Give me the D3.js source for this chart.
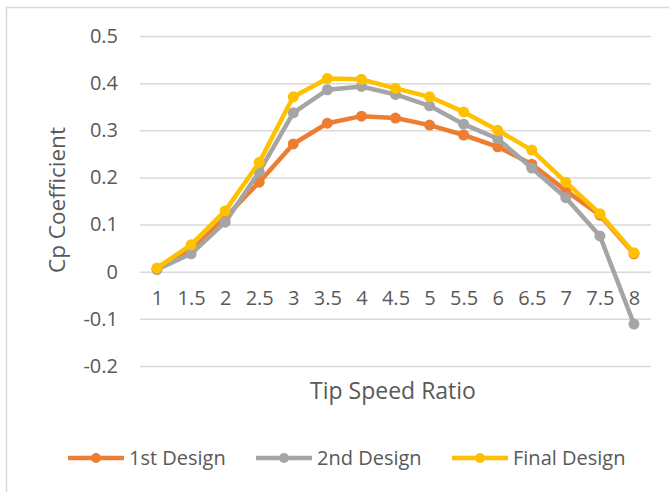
<!DOCTYPE html>
<html>
<head>
<meta charset="utf-8">
<script src="https://cdn.jsdelivr.net/npm/d3@7"></script>
<style>
    body { margin: 0; background: #fff; }
    text { font-family: "Open Sans", sans-serif; fill: #595959; }
</style>
</head>
<body>
<script>
// tip speed ratio categories
const categories = ['1', '1.5', '2', '2.5', '3', '3.5', '4', '4.5', '5', '5.5', '6', '6.5', '7', '7.5', '8'];

// Cp values per design
const firstDesign = [0.005, 0.045, 0.115, 0.19, 0.271, 0.315, 0.330, 0.326, 0.311, 0.290, 0.265, 0.228, 0.172, 0.12, 0.038];
const secondDesign = [0.005, 0.038, 0.105, 0.212, 0.337, 0.386, 0.393, 0.376, 0.352, 0.313, 0.282, 0.22, 0.157, 0.076, -0.111];
const finalDesign = [0.008, 0.057, 0.129, 0.232, 0.371, 0.41, 0.408, 0.389, 0.371, 0.339, 0.3, 0.258, 0.19, 0.123, 0.04];

const yTicks = [0.5, 0.4, 0.3, 0.2, 0.1, 0, -0.1, -0.2];
const seriesNames = ['1st Design', '2nd Design', 'Final Design'];
const seriesColors = ['#ED7D31', '#A5A5A5', '#FFC000'];

class Chart {

    constructor () {
        this.WIDTH = 669;
        this.HEIGHT = 492;
        this.LINE_WIDTH = 4.5;
        this.MARKER_R = 5.5;

        this.svg = d3.select('body').append('svg')
            .attr('width', this.WIDTH)
            .attr('height', this.HEIGHT);

        this.x = d3.scalePoint().domain(categories).range([140, 651]).padding(0.5);
        this.y = d3.scaleLinear().domain([-0.2, 0.5]).range([366, 36]);

        this.drawFrame();
        this.drawGrid();
        this.drawSeries();
        this.drawLegend();
    }

    drawFrame() {
        // chart area border, cut off at right and bottom in the original
        this.svg.append('rect')
            .attr('x', 6.5).attr('y', 7.5)
            .attr('width', 700).attr('height', 520)
            .attr('fill', 'none')
            .attr('stroke', '#d9d9d9')
            .attr('stroke-width', 1.5);
    }

    drawGrid() {
        const yAxis = d3.axisLeft(this.y)
            .tickValues(yTicks)
            .tickSize(-(651 - 140))
            .tickPadding(22)
            .tickFormat(d => String(+d.toFixed(1)));

        const gy = this.svg.append('g')
            .attr('transform', 'translate(140,0)')
            .call(yAxis);
        gy.select('.domain').remove();
        gy.selectAll('.tick line').attr('stroke', '#d9d9d9').attr('stroke-width', 1.5);
        gy.selectAll('.tick text')
            .attr('font-size', 20)
            .attr('fill', '#595959')
            .attr('font-family', '"Open Sans", sans-serif');

        // category labels sit just below the zero line
        const xAxis = d3.axisBottom(this.x).tickSize(0).tickPadding(19);
        const gx = this.svg.append('g')
            .attr('transform', `translate(0,${this.y(0)})`)
            .call(xAxis);
        gx.select('.domain').remove();
        gx.selectAll('.tick text')
            .attr('font-size', 20)
            .attr('fill', '#595959')
            .attr('font-family', '"Open Sans", sans-serif');

        this.svg.append('text')
            .attr('x', 393).attr('y', 399)
            .attr('text-anchor', 'middle')
            .attr('font-size', 23)
            .text('Tip Speed Ratio');

        this.svg.append('text')
            .attr('transform', 'translate(65,200) rotate(-90)')
            .attr('text-anchor', 'middle')
            .attr('font-size', 22.5)
            .text('Cp Coefficient');
    }

    drawSeries() {
        const data = [firstDesign, secondDesign, finalDesign];
        const line = d3.line()
            .x((v, i) => this.x(categories[i]))
            .y(v => this.y(v));

        data.forEach((values, k) => {
            const g = this.svg.append('g');
            g.append('path')
                .datum(values)
                .attr('d', line)
                .attr('fill', 'none')
                .attr('stroke', seriesColors[k])
                .attr('stroke-width', this.LINE_WIDTH)
                .attr('stroke-linejoin', 'round');
            g.selectAll('circle').data(values).enter()
                .append('circle')
                .attr('cx', (v, i) => this.x(categories[i]))
                .attr('cy', v => this.y(v))
                .attr('r', this.MARKER_R)
                .attr('fill', seriesColors[k]);
        });
    }

    drawLegend() {
        const starts = [68, 256, 452];
        const ly = 458;
        seriesNames.forEach((name, k) => {
            const g = this.svg.append('g').attr('transform', `translate(${starts[k]},${ly})`);
            g.append('line')
                .attr('x1', 0).attr('x2', 56)
                .attr('stroke', seriesColors[k])
                .attr('stroke-width', this.LINE_WIDTH);
            g.append('circle')
                .attr('cx', 28).attr('r', 5)
                .attr('fill', seriesColors[k]);
            g.append('text')
                .attr('x', 61).attr('y', 7)
                .attr('font-size', 20)
                .text(name);
        });
    }
}

new Chart();
</script>
</body>
</html>
